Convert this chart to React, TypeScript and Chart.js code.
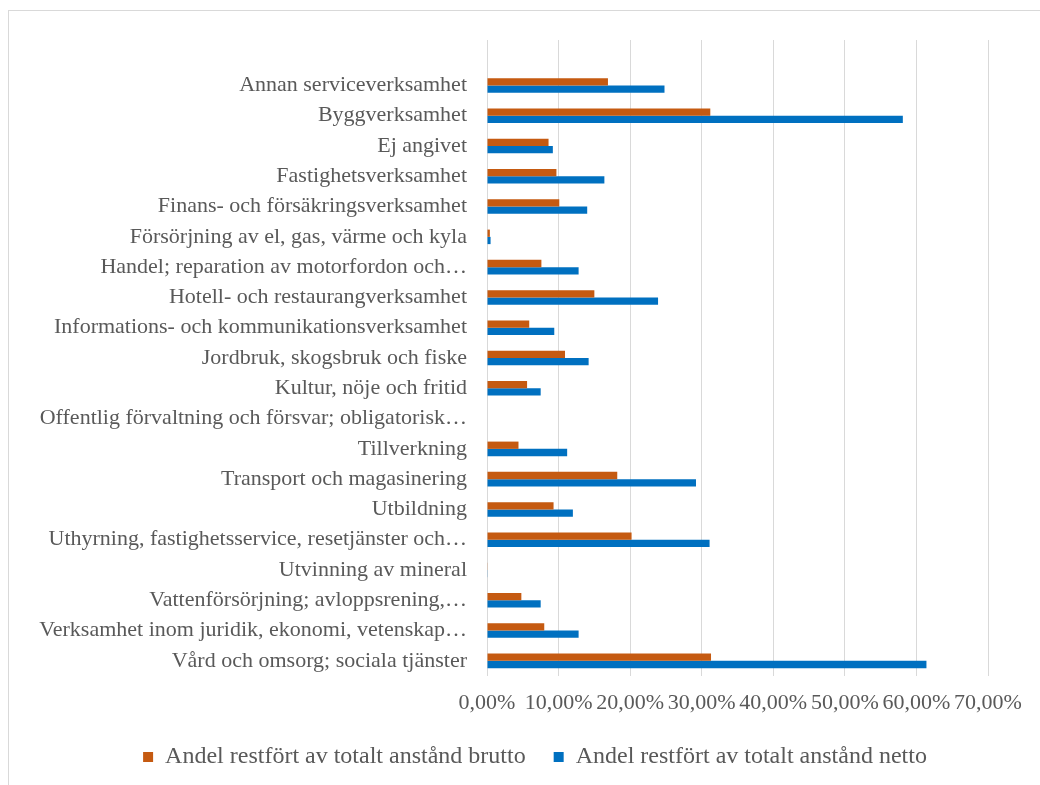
import React, { useEffect, useRef } from "react";
import { Chart, registerables } from "chart.js";

Chart.register(...registerables);

const categories: string[] = [
  "",
  "Annan serviceverksamhet",
  "Byggverksamhet",
  "Ej angivet",
  "Fastighetsverksamhet",
  "Finans- och försäkringsverksamhet",
  "Försörjning av el, gas, värme och kyla",
  "Handel; reparation av motorfordon och…",
  "Hotell- och restaurangverksamhet",
  "Informations- och kommunikationsverksamhet",
  "Jordbruk, skogsbruk och fiske",
  "Kultur, nöje och fritid",
  "Offentlig förvaltning och försvar; obligatorisk…",
  "Tillverkning",
  "Transport och magasinering",
  "Utbildning",
  "Uthyrning, fastighetsservice, resetjänster och…",
  "Utvinning av mineral",
  "Vattenförsörjning; avloppsrening,…",
  "Verksamhet inom juridik, ekonomi, vetenskap…",
  "Vård och omsorg; sociala tjänster",
];

const brutto: (number | null)[] = [
  null, 16.9, 31.2, 8.6, 9.7, 10.1, 0.4, 7.6, 15.0, 5.9, 10.9, 5.6, 0, 4.4, 18.2, 9.3, 20.2, 0.05, 4.8, 8.0, 31.3,
];

const netto: (number | null)[] = [
  null, 24.8, 58.1, 9.2, 16.4, 14.0, 0.5, 12.8, 23.9, 9.4, 14.2, 7.5, 0, 11.2, 29.2, 12.0, 31.1, 0.05, 7.5, 12.8, 61.4,
];

const seriesNames = [
  "Andel restfört av totalt anstånd brutto",
  "Andel restfört av totalt anstånd netto",
];

const xTickMax = 70;
const xTickStep = 10;

const FONT = "'Liberation Serif', 'Times New Roman', serif";
const TEXT = "#595959";

// centre the legend on the full chart frame (which extends past the right edge)
const legendShift = {
  id: "legendShift",
  afterLayout(chart: any) {
    const lg = chart.legend;
    if (lg) {
      lg.left += 31;
      lg.right += 31;
    }
  },
};

export default function App() {
  const ref = useRef<HTMLCanvasElement | null>(null);

  useEffect(() => {
    if (!ref.current) return;
    const chart = new Chart(ref.current, {
      type: "bar",
      data: {
        labels: categories,
        datasets: [
          {
            label: seriesNames[0],
            data: brutto,
            backgroundColor: "#C55A11",
            borderWidth: 0,
            barPercentage: 1,
            categoryPercentage: 0.48,
          },
          {
            label: seriesNames[1],
            data: netto,
            backgroundColor: "#0070C0",
            borderWidth: 0,
            barPercentage: 1,
            categoryPercentage: 0.48,
          },
        ],
      },
      plugins: [legendShift],
      options: {
        indexAxis: "y",
        animation: false,
        responsive: false,
        maintainAspectRatio: false,
        layout: { padding: { top: 40, right: 52, bottom: 6, left: 20 } },
        plugins: {
          tooltip: { enabled: false },
          legend: {
            position: "bottom",
            labels: {
              color: TEXT,
              font: { family: FONT, size: 24 },
              boxWidth: 10,
              boxHeight: 10,
              padding: 28,
            },
          },
        },
        scales: {
          x: {
            min: 0,
            max: xTickMax,
            grid: { color: "#d9d9d9", lineWidth: 1, drawTicks: false },
            border: { display: false },
            afterFit: (s: any) => {
              s.height = 41;
            },
            ticks: {
              stepSize: xTickStep,
              autoSkip: false,
              maxRotation: 0,
              padding: 14,
              color: TEXT,
              font: { family: FONT, size: 22 },
              callback: (v: any) => Number(v).toFixed(2).replace(".", ",") + "%",
            },
          },
          y: {
            grid: { display: false, drawTicks: false },
            border: { display: false },
            afterFit: (s: any) => {
              s.width = 467;
            },
            ticks: {
              autoSkip: false,
              padding: 20,
              color: TEXT,
              font: { family: FONT, size: 22 },
            },
          },
        },
      },
    });
    return () => chart.destroy();
  }, []);

  return (
    <>
      <div
        style={{
          position: "fixed",
          left: 8,
          top: 10,
          width: 1032,
          height: 775,
          borderLeft: "1px solid #d9d9d9",
          borderTop: "1px solid #d9d9d9",
          background: "#fff",
        }}
      />
      <canvas
        ref={ref}
        width={1040}
        height={785}
        style={{ position: "fixed", left: 0, top: 0, width: 1040, height: 785 }}
      />
    </>
  );
}
